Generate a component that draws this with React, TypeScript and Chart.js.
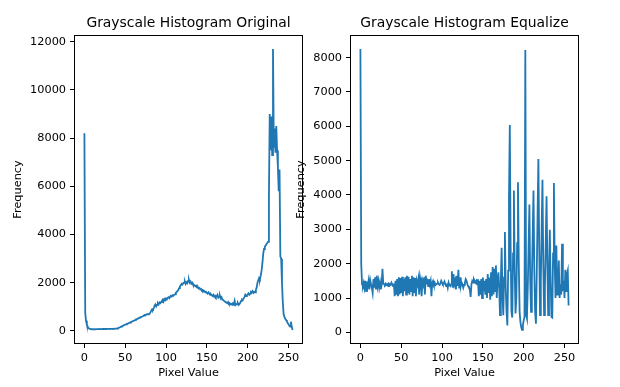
import React, { useEffect, useRef } from "react";
import { Chart, registerables } from "chart.js";

Chart.register(...registerables);

// Pixel values (histogram bins 0..255)
const pixelValues: number[] = Array.from({ length: 256 }, (_, i) => i);

// Histogram of the original grayscale image (frequency per bin)
const originalHist: number[] = [
  8200, 750, 420, 260, 170, 120, 95, 85, 75, 70,
  70, 72, 68, 75, 70, 73, 78, 72, 75, 80,
  76, 78, 82, 80, 85, 79, 83, 80, 86, 82,
  84, 80, 85, 83, 88, 84, 90, 86, 92, 95,
  100, 110, 125, 140, 160, 175, 190, 210, 230, 245,
  260, 270, 290, 300, 320, 335, 350, 370, 385, 400,
  420, 430, 450, 470, 490, 500, 520, 540, 555, 570,
  585, 600, 620, 640, 660, 660, 680, 700, 690, 700,
  720, 780, 850, 900, 880, 950, 1050, 1100, 1020, 1080,
  1150, 1100, 1180, 1150, 1200, 1250, 1300, 1220, 1320, 1280,
  1350, 1330, 1370, 1400, 1360, 1420, 1450, 1430, 1480, 1460,
  1500, 1520, 1580, 1620, 1650, 1700, 1780, 1850, 1900, 1950,
  1920, 1980, 2000, 2050, 1950, 2020, 1980, 2080, 2120, 2000,
  2050, 1960, 2000, 1920, 1880, 1900, 1850, 1870, 1800, 1820,
  1760, 1780, 1720, 1740, 1680, 1700, 1640, 1660, 1600, 1620,
  1580, 1560, 1600, 1540, 1500, 1520, 1480, 1450, 1500, 1420,
  1460, 1400, 1440, 1500, 1380, 1420, 1460, 1350, 1400, 1300,
  1280, 1250, 1220, 1200, 1180, 1150, 1200, 1130, 1150, 1100,
  1120, 1080, 1130, 1100, 1250, 1080, 1120, 1100, 1150, 1080,
  1120, 1180, 1250, 1300, 1280, 1350, 1400, 1500, 1450, 1480,
  1520, 1560, 1500, 1550, 1620, 1600, 1650, 1580, 1620, 1600,
  1700, 1800, 2000, 2100, 2200, 2150, 2300, 2500, 2800, 3200,
  3400, 3500, 3550, 3600, 3650, 3700, 5500, 9000, 7500, 8900,
  7300, 11700, 7600, 8400, 7400, 8500, 7500, 6800, 5800, 6700,
  3100, 3000, 2000, 1200, 700, 580, 500, 450, 400, 330,
  280, 220, 180, 380, 160, 40,
];

// Histogram of the equalized image
const equalizedHist: number[] = [
  8250, 2000, 1400, 1350, 1450, 1300, 1500, 1200, 1480, 1350,
  1500, 1250, 1520, 1400, 1300, 1150, 1550, 1300, 1600, 1250,
  1650, 1350, 1500, 1300, 1450, 1250, 1380, 1850, 1420, 1400,
  1380, 1420, 1380, 1400, 1350, 1420, 1400, 1380, 1450, 1400,
  1350, 1420, 1050, 1500, 1100, 1550, 1050, 1600, 1100, 1580,
  1150, 1620, 1050, 1550, 1200, 1600, 1100, 1650, 1150, 1620,
  1100, 1550, 1200, 1650, 1050, 1600, 1150, 1580, 1050, 1500,
  1400, 1550, 1100, 1600, 1450, 1050, 1500, 1400, 1600, 1100,
  1650, 1450, 1500, 1350, 1550, 1400, 1500, 1050, 1450, 1500,
  1400, 1450, 1380, 1400, 1420, 1450, 1400, 1380, 1420, 1500,
  1450, 1400, 1420, 1480, 1400, 1350, 1420, 1300, 1450, 1380,
  1350, 1400, 1780, 1300, 1700, 1400, 1500, 1250, 1650, 1350,
  1820, 1280, 1600, 1350, 1450, 1400, 1300, 1380, 1450, 1550,
  1500, 1400, 1350, 1300, 1250, 1030, 1400, 1500, 1450, 1550,
  1500, 1450, 1500, 1400, 1550, 1050, 1500, 1100, 1550, 1000,
  1600, 1200, 1500, 1100, 1550, 1000, 1700, 1150, 1600, 950,
  1750, 1050, 1900, 1100, 1850, 1200, 1950, 1000, 1500, 1750,
  1300, 500, 1500, 2460, 1100, 500, 1600, 2920, 1300, 600,
  200, 1800, 3900, 6040, 2500, 600, 430, 2300, 4130, 1800,
  550, 1000, 2600, 4370, 2000, 600, 300, 150, 70, 200,
  350, 450, 8220, 500, 400, 1300, 2500, 3720, 1500, 600,
  1500, 2800, 4130, 1800, 600, 250, 1700, 3400, 5050, 2500,
  500, 1500, 3000, 4440, 2000, 500, 1300, 2600, 3960, 2000,
  500, 1700, 2990, 1500, 450, 430, 2300, 4350, 2000, 1000,
  2530, 1100, 1200, 2090, 1000, 1400, 1100, 2580, 1200, 1500,
  1000, 1820, 1200, 1700, 1800, 780,
];

const xTicks: number[] = [0, 50, 100, 150, 200, 250];
const yTicksOriginal: number[] = [0, 2000, 4000, 6000, 8000, 10000, 12000];
const yTicksEqualized: number[] = [0, 1000, 2000, 3000, 4000, 5000, 6000, 7000, 8000];

const FONT = "'DejaVu Sans', 'Liberation Sans', sans-serif";
const TEXT = "#000";

const boxPlugin = {
  id: "boxFrame",
  afterDraw(chart: any) {
    const { ctx, chartArea: a } = chart;
    ctx.save();
    ctx.strokeStyle = "#000";
    ctx.lineWidth = 1;
    const l = Math.round(a.left) + 0.5;
    const t = Math.round(a.top) + 0.5;
    const r = Math.round(a.right) - 0.5;
    const b = Math.round(a.bottom) - 0.5;
    ctx.strokeRect(l, t, r - l, b - t);
    ctx.restore();
  },
};

function padRange(vals: number[]) {
  const lo = Math.min(...vals);
  const hi = Math.max(...vals);
  const m = (hi - lo) * 0.05;
  return [lo - m, hi + m];
}

function makeConfig(
  title: string,
  values: number[],
  yTicks: number[],
  padL: number,
  padR: number,
  yAxisW: number
): any {
  const [xMin, xMax] = padRange(pixelValues);
  const [yMin, yMax] = padRange(values);
  return {
    type: "line",
    data: {
      datasets: [
        {
          data: pixelValues.map((x, i) => ({ x, y: values[i] })),
          borderColor: "#1f77b4",
          borderWidth: 1.8,
          pointRadius: 0,
          tension: 0,
          fill: false,
        },
      ],
    },
    options: {
      animation: false,
      responsive: false,
      devicePixelRatio: 1,
      layout: { padding: { left: padL, right: padR, top: 0, bottom: 0 } },
      plugins: {
        legend: { display: false },
        tooltip: { enabled: false },
        title: {
          display: true,
          text: title,
          fullSize: false,
          color: TEXT,
          font: { family: FONT, size: 13.9, weight: "normal", lineHeight: 1.2 },
          padding: { top: 14.6, bottom: 3.7 },
        },
      },
      scales: {
        x: {
          type: "linear",
          min: xMin,
          max: xMax,
          afterBuildTicks: (s: any) => {
            s.ticks = xTicks.map((v) => ({ value: v }));
          },
          afterFit: (s: any) => {
            s.height = 43;
          },
          border: { display: false },
          grid: {
            drawOnChartArea: false,
            drawTicks: true,
            tickLength: 4,
            color: "#000",
          },
          ticks: {
            color: TEXT,
            padding: 3,
            maxRotation: 0,
            autoSkip: false,
            font: { family: FONT, size: 11.3 },
            callback: (v: any) => String(v),
          },
          title: {
            display: true,
            text: "Pixel Value",
            color: TEXT,
            font: { family: FONT, size: 11.3, lineHeight: 1.2 },
            padding: { top: 0, bottom: 7.2 },
          },
        },
        y: {
          type: "linear",
          min: yMin,
          max: yMax,
          afterBuildTicks: (s: any) => {
            s.ticks = yTicks.map((v) => ({ value: v }));
          },
          afterFit: (s: any) => {
            s.width = yAxisW;
          },
          border: { display: false },
          grid: {
            drawOnChartArea: false,
            drawTicks: true,
            tickLength: 4,
            color: "#000",
          },
          ticks: {
            color: TEXT,
            padding: 4,
            autoSkip: false,
            font: { family: FONT, size: 11.3 },
            callback: (v: any) => String(v),
          },
          title: {
            display: true,
            text: "Frequency",
            color: TEXT,
            font: { family: FONT, size: 11.3, lineHeight: 1.2 },
            padding: { top: 11.6, bottom: 0 },
          },
        },
      },
    },
    plugins: [boxPlugin],
  };
}

export default function App() {
  const leftRef = useRef<HTMLCanvasElement>(null);
  const rightRef = useRef<HTMLCanvasElement>(null);

  useEffect(() => {
    document.body.style.margin = "0";
    const c1 = new Chart(
      leftRef.current as HTMLCanvasElement,
      makeConfig("Grayscale Histogram Original", originalHist, yTicksOriginal, 0, 317, 74)
    );
    const c2 = new Chart(
      rightRef.current as HTMLCanvasElement,
      makeConfig("Grayscale Histogram Equalize", equalizedHist, yTicksEqualized, 283, 41, 67)
    );
    return () => {
      c1.destroy();
      c2.destroy();
    };
  }, []);

  const canvasStyle: React.CSSProperties = {
    position: "absolute",
    left: 0,
    top: 0,
    width: 620,
    height: 387,
  };

  return (
    <div
      style={{
        position: "fixed",
        left: 0,
        top: 0,
        width: 620,
        height: 387,
        background: "#fff",
      }}
    >
      <canvas ref={leftRef} width={620} height={387} style={canvasStyle} />
      <canvas ref={rightRef} width={620} height={387} style={canvasStyle} />
    </div>
  );
}
